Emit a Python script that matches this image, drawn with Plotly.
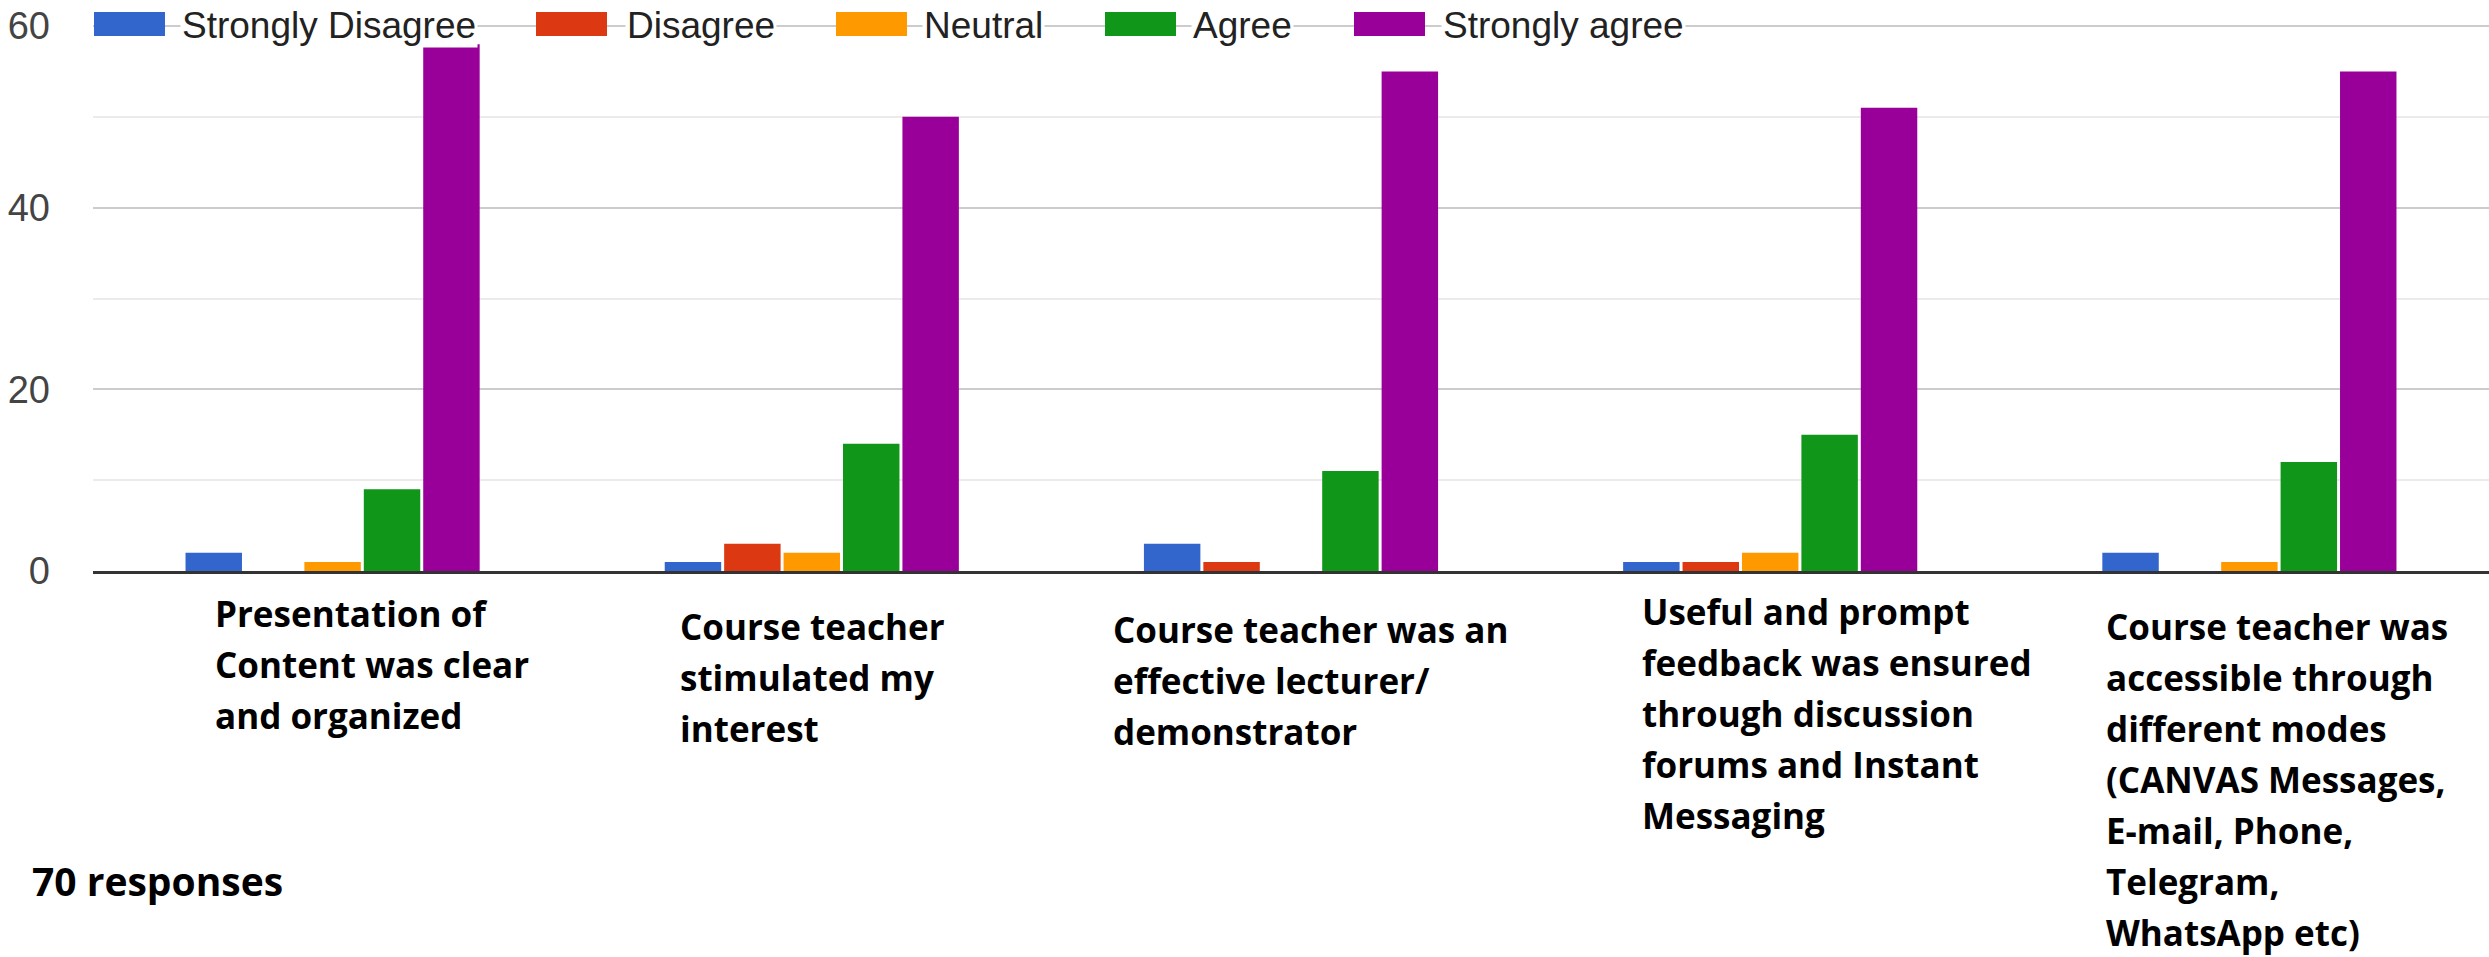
import plotly.graph_objects as go

# Data
CATEGORIES = [
    "Presentation of Content was clear and organized",
    "Course teacher stimulated my interest",
    "Course teacher was an effective lecturer/ demonstrator",
    "Useful and prompt feedback was ensured through discussion forums and Instant Messaging",
    "Course teacher was accessible through different modes (CANVAS Messages, E-mail, Phone, Telegram, WhatsApp etc)",
]
CATEGORY_LINES = [
    ["Presentation of", "Content was clear", "and organized"],
    ["Course teacher", "stimulated my", "interest"],
    ["Course teacher was an", "effective lecturer/", "demonstrator"],
    ["Useful and prompt", "feedback was ensured", "through discussion", "forums and Instant", "Messaging"],
    ["Course teacher was", "accessible through", "different modes", "(CANVAS Messages,",
     "E-mail, Phone,", "Telegram,", "WhatsApp etc)"],
]
SERIES = ["Strongly Disagree", "Disagree", "Neutral", "Agree", "Strongly agree"]
STRONGLY_DISAGREE = [2, 1, 3, 1, 2]
DISAGREE = [0, 3, 1, 1, 0]
NEUTRAL = [1, 2, 0, 2, 1]
AGREE = [9, 14, 11, 15, 12]
STRONGLY_AGREE = [58, 50, 55, 51, 55]
Y_TICKS = [0, 20, 40, 60]
RESPONSES_NOTE = "70 responses"

COLORS = ["#3366cc", "#dc3912", "#ff9900", "#109618", "#990099"]
TICK_FONT = "Liberation Sans, Arial, sans-serif"
LABEL_FONT = "Open Sans, Lato, sans-serif"

W, H = 2489, 957
PLOT_L, PLOT_R, PLOT_T, PLOT_B = 93, 2489, 20, 571
Y_MAX = 60.66  # puts the 60 gridline at ~26px from the top


def px_x(px):
    return (px - PLOT_L) / (PLOT_R - PLOT_L)


def px_y(py):
    return (PLOT_B - py) / (PLOT_B - PLOT_T)


values = [STRONGLY_DISAGREE, DISAGREE, NEUTRAL, AGREE, STRONGLY_AGREE]
fig = go.Figure()
for name, vals, color in zip(SERIES, values, COLORS):
    fig.add_trace(
        go.Bar(x=CATEGORIES, y=vals, name=name, marker=dict(color=color, line=dict(width=0)))
    )

# custom legend: big colour boxes sitting on the top gridline
legend_box_x = [94, 536, 836, 1105, 1354]
legend_text_x = [182, 627, 924, 1193, 1443]
shapes = []
annotations = []
for name, color, bx, tx in zip(SERIES, COLORS, legend_box_x, legend_text_x):
    shapes.append(
        dict(type="rect", xref="paper", yref="paper",
             x0=px_x(bx), x1=px_x(bx + 71), y0=px_y(36), y1=px_y(12),
             fillcolor=color, line=dict(width=0), layer="above")
    )
    annotations.append(
        dict(xref="paper", yref="paper", x=px_x(tx - 2), y=px_y(26),
             xanchor="left", yanchor="middle", text=name, showarrow=False,
             bgcolor="white", borderpad=1,
             font=dict(family=TICK_FONT, size=37, color="#222222"))
    )

# category labels, left aligned, one annotation per line
LABEL_SIZE = 35
label_left = [213, 678, 1111, 1640, 2104]
label_base = [627, 640, 643, 625, 640]
LINE_H = 51
for lines, lx, base in zip(CATEGORY_LINES, label_left, label_base):
    for i, line in enumerate(lines):
        annotations.append(
            dict(xref="paper", yref="paper", x=px_x(lx),
                 y=px_y(base + i * LINE_H - 0.388 * LABEL_SIZE),
                 xanchor="left", yanchor="middle", text=f"<b>{line}</b>", showarrow=False,
                 font=dict(family=LABEL_FONT, size=LABEL_SIZE, color="black"))
        )

annotations.append(
    dict(xref="paper", yref="paper", x=px_x(30), y=px_y(896 - 0.388 * 39),
         xanchor="left", yanchor="middle", text=f"<b>{RESPONSES_NOTE}</b>", showarrow=False,
         font=dict(family=LABEL_FONT, size=39, color="black"))
)

fig.update_layout(
    width=W,
    height=H,
    autosize=False,
    margin=dict(l=PLOT_L, r=W - PLOT_R, t=PLOT_T, b=H - PLOT_B, pad=0),
    paper_bgcolor="white",
    plot_bgcolor="white",
    barmode="group",
    bargap=0.38,
    bargroupgap=0.05,
    showlegend=False,
    shapes=shapes,
    annotations=annotations,
)
fig.update_xaxes(
    showticklabels=False,
    showgrid=False,
    showline=True,
    linecolor="#333333",
    linewidth=3,
    range=[-0.5, 4.5],
)
fig.update_yaxes(
    range=[0, Y_MAX],
    tickvals=Y_TICKS,
    showgrid=True,
    gridcolor="#cccccc",
    gridwidth=2,
    zeroline=False,
    minor=dict(dtick=10, showgrid=True, gridcolor="#ebebeb", gridwidth=2),
    ticks="",
    ticklabelstandoff=42,
    tickfont=dict(family=TICK_FONT, size=38, color="#444444"),
)

fig.write_html(
    "out.html",
    config={"displayModeBar": False},
    post_script="document.body.style.margin = '0';",
)
